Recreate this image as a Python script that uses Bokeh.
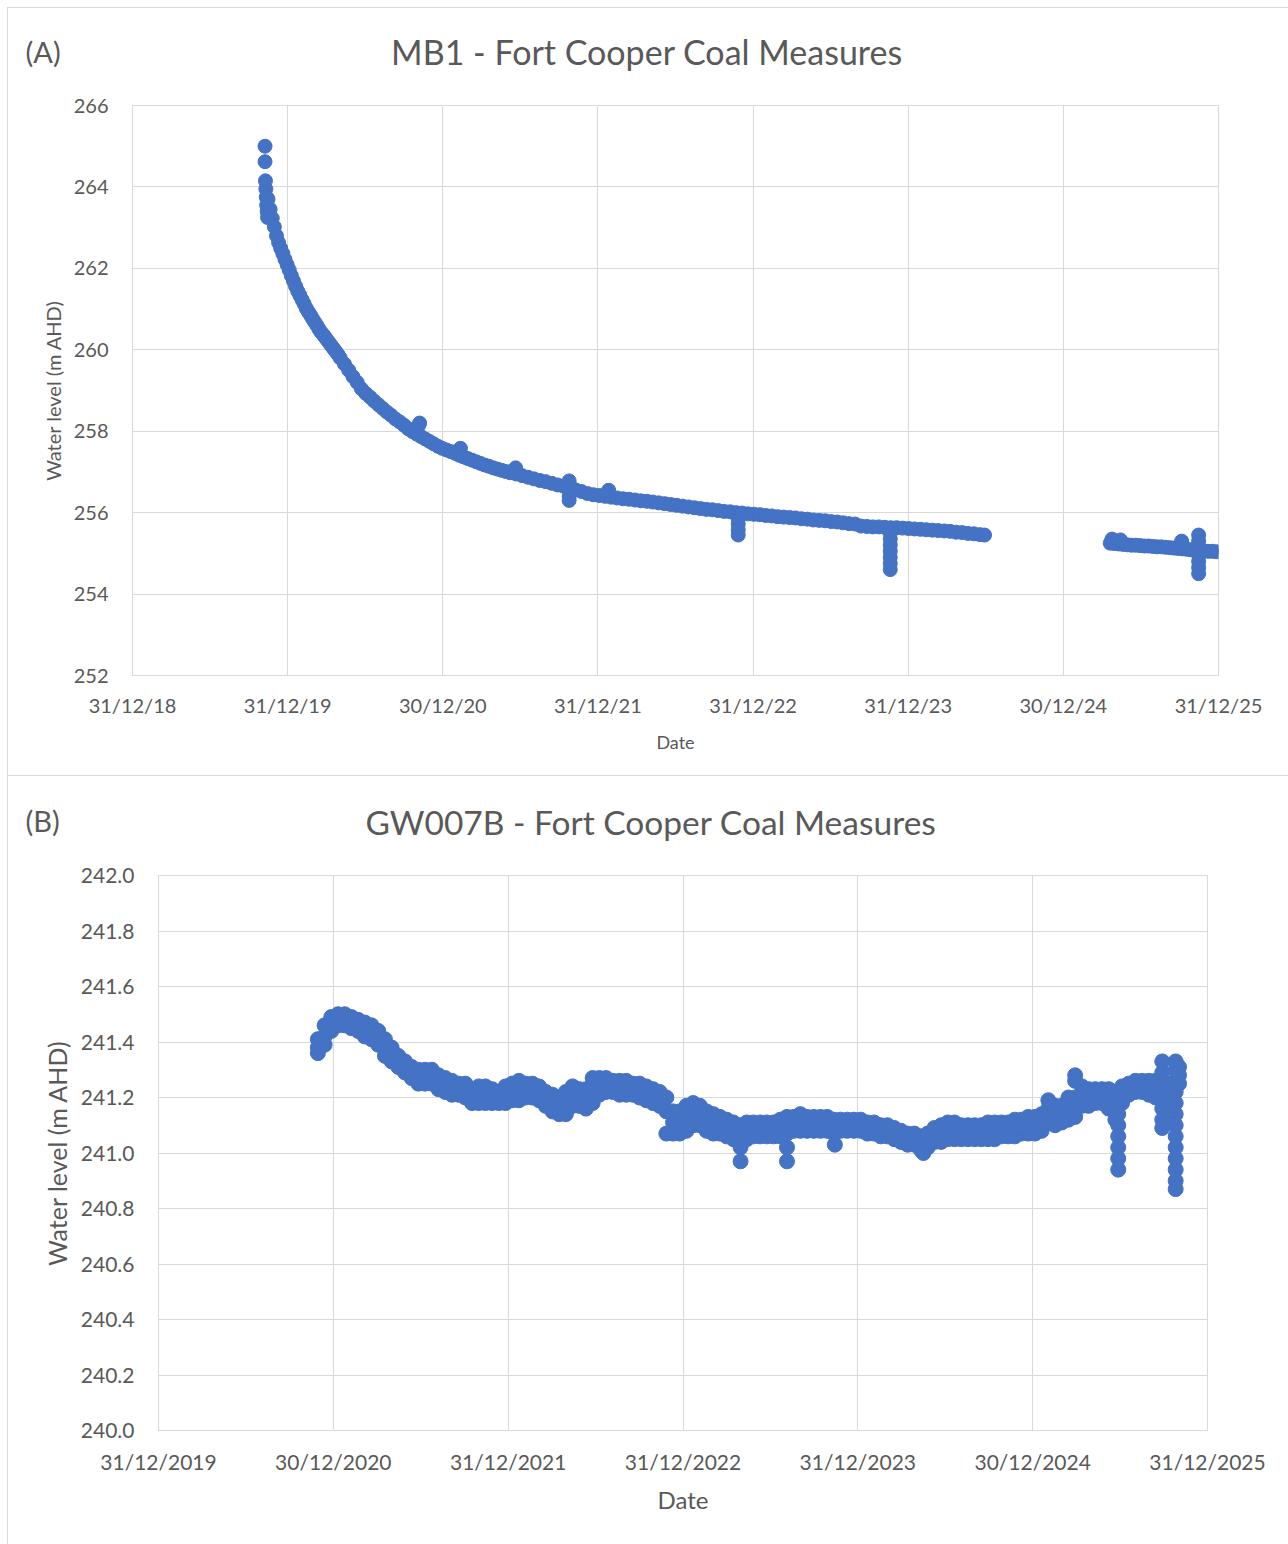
import numpy as np
from bokeh.plotting import figure
from bokeh.models import FixedTicker, Label, Range1d, NumeralTickFormatter
from bokeh.layouts import column
from bokeh.embed import file_html
from bokeh.resources import INLINE

# ---------------- data : (A) MB1 ----------------
mb1_title = "MB1 - Fort Cooper Coal Measures"
mb1_x_labels = ["31/12/18", "31/12/19", "30/12/20", "31/12/21", "31/12/22", "31/12/23", "30/12/24", "31/12/25"]
mb1_y_ticks = [252, 254, 256, 258, 260, 262, 264, 266]

mb1_dates = [
    "2019-11-08", "2019-11-08", "2019-11-09", "2019-11-10", "2019-11-11", "2019-11-12", "2019-11-13", "2019-11-14",
    "2019-11-15", "2019-11-20", "2019-11-25", "2019-11-30", "2019-12-05", "2019-12-10", "2019-12-15", "2019-12-20",
    "2019-12-25", "2019-12-30", "2020-01-04", "2020-01-09", "2020-01-14", "2020-01-19", "2020-01-24", "2020-01-29",
    "2020-02-03", "2020-02-08", "2020-02-13", "2020-02-18", "2020-02-23", "2020-02-28", "2020-03-04", "2020-03-09",
    "2020-03-14", "2020-03-19", "2020-03-24", "2020-03-29", "2020-04-03", "2020-04-08", "2020-04-13", "2020-04-18",
    "2020-04-23", "2020-04-28", "2020-05-03", "2020-05-13", "2020-05-23", "2020-06-02", "2020-06-12", "2020-06-22",
    "2020-07-02", "2020-07-12", "2020-07-22", "2020-08-01", "2020-08-11", "2020-08-21", "2020-08-31", "2020-09-10",
    "2020-09-20", "2020-09-30", "2020-10-10", "2020-10-20", "2020-10-30", "2020-11-09", "2020-11-19", "2020-11-29",
    "2020-12-09", "2020-12-19", "2020-12-29", "2021-01-08", "2021-01-18", "2021-01-28", "2021-02-07", "2021-02-17",
    "2021-02-27", "2021-03-09", "2021-03-19", "2021-03-29", "2021-04-08", "2021-04-18", "2021-04-28", "2021-05-08",
    "2021-05-18", "2021-05-28", "2021-06-07", "2021-06-21", "2021-07-05", "2021-07-19", "2021-08-02", "2021-08-16",
    "2021-08-30", "2021-09-13", "2021-09-27", "2021-10-11", "2021-10-25", "2021-11-08", "2021-11-22", "2021-12-06",
    "2021-12-20", "2022-01-03", "2022-01-17", "2022-01-31", "2022-02-14", "2022-02-28", "2022-03-14", "2022-03-28",
    "2022-04-11", "2022-04-25", "2022-05-09", "2022-05-23", "2022-06-06", "2022-06-20", "2022-07-04", "2022-07-18",
    "2022-08-01", "2022-08-15", "2022-08-29", "2022-09-12", "2022-09-26", "2022-10-10", "2022-10-24", "2022-11-07",
    "2022-11-21", "2022-12-05", "2022-12-19", "2023-01-02", "2023-01-16", "2023-01-30", "2023-02-13", "2023-02-27",
    "2023-03-13", "2023-03-27", "2023-04-10", "2023-04-24", "2023-05-08", "2023-05-22", "2023-06-05", "2023-06-19",
    "2023-07-03", "2023-07-17", "2023-07-31", "2023-08-14", "2023-08-28", "2023-09-11", "2023-09-25", "2023-10-09",
    "2023-10-23", "2023-11-06", "2023-11-20", "2023-12-04", "2023-12-18", "2024-01-01", "2024-01-15", "2024-01-29",
    "2024-02-12", "2024-02-26", "2024-03-11", "2024-03-25", "2024-04-08", "2024-04-22", "2024-05-06", "2024-05-20",
    "2024-06-03", "2024-06-17", "2024-06-28",
    "2025-04-20", "2025-04-30", "2025-05-10", "2025-05-20", "2025-05-30", "2025-06-09", "2025-06-19", "2025-06-29",
    "2025-07-09", "2025-07-19", "2025-07-29", "2025-08-08", "2025-08-18", "2025-08-28", "2025-09-07", "2025-09-17",
    "2025-09-27", "2025-10-07", "2025-10-17", "2025-10-27", "2025-11-06", "2025-11-16", "2025-11-26", "2025-12-06",
    "2025-12-16", "2025-12-26",
]
mb1_level = [
    265.00, 264.62, 264.15, 263.95, 263.75, 263.55, 263.40, 263.25,
    263.70, 263.45, 263.23, 263.02, 262.80, 262.63, 262.49, 262.36,
    262.22, 262.09, 261.96, 261.82, 261.69, 261.56, 261.44, 261.34,
    261.23, 261.13, 261.02, 260.93, 260.85, 260.76, 260.68, 260.60,
    260.51, 260.43, 260.37, 260.30, 260.23, 260.16, 260.09, 260.02,
    259.95, 259.88, 259.80, 259.65, 259.50, 259.34, 259.20, 259.04,
    258.93, 258.84, 258.74, 258.65, 258.56, 258.47, 258.39, 258.30,
    258.23, 258.15, 258.06, 257.99, 257.93, 257.87, 257.81, 257.75,
    257.69, 257.63, 257.58, 257.54, 257.50, 257.46, 257.41, 257.37,
    257.33, 257.29, 257.25, 257.21, 257.17, 257.14, 257.10, 257.07,
    257.04, 257.01, 256.98, 256.95, 256.91, 256.87, 256.83, 256.79,
    256.76, 256.72, 256.68, 256.65, 256.61, 256.56, 256.52, 256.47,
    256.44, 256.42, 256.40, 256.38, 256.36, 256.34, 256.33, 256.31,
    256.29, 256.28, 256.26, 256.24, 256.22, 256.20, 256.18, 256.16,
    256.14, 256.12, 256.10, 256.08, 256.07, 256.05, 256.03, 256.02,
    256.00, 255.99, 255.97, 255.96, 255.95, 255.93, 255.92, 255.90,
    255.89, 255.88, 255.87, 255.85, 255.84, 255.82, 255.81, 255.80,
    255.78, 255.77, 255.75, 255.73, 255.72, 255.67, 255.66, 255.65,
    255.65, 255.64, 255.63, 255.63, 255.62, 255.61, 255.60, 255.59,
    255.58, 255.57, 255.56, 255.55, 255.54, 255.52, 255.51, 255.49,
    255.48, 255.46, 255.45,
    255.25, 255.24, 255.23, 255.22, 255.21, 255.20, 255.20, 255.19,
    255.18, 255.18, 255.17, 255.16, 255.16, 255.15, 255.14, 255.13,
    255.12, 255.11, 255.10, 255.09, 255.08, 255.07, 255.06, 255.05,
    255.05, 255.04,
]
# isolated readings (bumps and short drawdown spikes)
mb1_extra_dates = [
    "2020-11-04", "2020-11-06", "2021-02-10", "2021-06-20", "2021-10-24", "2021-10-24", "2021-10-24", "2022-01-25",
    "2022-11-26", "2022-11-26", "2022-11-26", "2022-11-26",
    "2023-11-19", "2023-11-19", "2023-11-19", "2023-11-19", "2023-11-19", "2023-11-19", "2023-11-19",
    "2025-04-24", "2025-05-14", "2025-10-05",
    "2025-11-14", "2025-11-14", "2025-11-14", "2025-11-14", "2025-11-14", "2025-11-14",
]
mb1_extra_level = [
    258.15, 258.20, 257.58, 257.10, 256.78, 256.40, 256.30, 256.55,
    255.85, 255.72, 255.58, 255.45,
    255.50, 255.35, 255.20, 255.05, 254.90, 254.75, 254.60,
    255.35, 255.33, 255.30,
    255.45, 255.30, 254.95, 254.80, 254.65, 254.50,
]

# ---------------- data : (B) GW007B ----------------
gw_title = "GW007B - Fort Cooper Coal Measures"
gw_x_labels = ["31/12/2019", "30/12/2020", "31/12/2021", "31/12/2022", "31/12/2023", "30/12/2024", "31/12/2025"]
gw_y_ticks = [240.0, 240.2, 240.4, 240.6, 240.8, 241.0, 241.2, 241.4, 241.6, 241.8, 242.0]

gw_dates = [
    "2020-11-28", "2020-12-12", "2020-12-26", "2021-01-09", "2021-01-23", "2021-02-06", "2021-02-20", "2021-03-06",
    "2021-03-20", "2021-04-03", "2021-04-17", "2021-05-01", "2021-05-15", "2021-05-29", "2021-06-12", "2021-06-26",
    "2021-07-10", "2021-07-24", "2021-08-07", "2021-08-21", "2021-09-04", "2021-09-18", "2021-10-02", "2021-10-16",
    "2021-10-30", "2021-11-13", "2021-11-27", "2021-12-11", "2021-12-25",
    "2022-01-08", "2022-01-22", "2022-02-05", "2022-02-19", "2022-03-05", "2022-03-19", "2022-04-02", "2022-04-16",
    "2022-04-30", "2022-05-14", "2022-05-28", "2022-06-11", "2022-06-25", "2022-07-09", "2022-07-23", "2022-08-06",
    "2022-08-20", "2022-09-03", "2022-09-17", "2022-10-01", "2022-10-15", "2022-10-29", "2022-11-12", "2022-11-26",
    "2022-12-10", "2022-12-24",
    "2023-01-07", "2023-01-21", "2023-02-04", "2023-02-18", "2023-03-04", "2023-03-18", "2023-04-01", "2023-04-15",
    "2023-04-29", "2023-05-13", "2023-05-27", "2023-06-10", "2023-06-24", "2023-07-08", "2023-07-22", "2023-08-05",
    "2023-08-19", "2023-09-02", "2023-09-16", "2023-09-30", "2023-10-14", "2023-10-28", "2023-11-11", "2023-11-25",
    "2023-12-09", "2023-12-23",
    "2024-01-06", "2024-01-20", "2024-02-03", "2024-02-17", "2024-03-02", "2024-03-16", "2024-03-30", "2024-04-13",
    "2024-04-27", "2024-05-11", "2024-05-25", "2024-06-08", "2024-06-22", "2024-07-06", "2024-07-20", "2024-08-03",
    "2024-08-17", "2024-08-31", "2024-09-14", "2024-09-28", "2024-10-12", "2024-10-26", "2024-11-09", "2024-11-23",
    "2024-12-07", "2024-12-21",
    "2025-01-04", "2025-01-18", "2025-02-01", "2025-02-15", "2025-03-01", "2025-03-15", "2025-03-29", "2025-04-12",
    "2025-04-26", "2025-05-10", "2025-05-24", "2025-06-07", "2025-06-21", "2025-07-05", "2025-07-19", "2025-08-02",
    "2025-08-16", "2025-08-30", "2025-09-13", "2025-09-27", "2025-10-11", "2025-10-25", "2025-11-01",
]
# lower edge, centre and upper edge of the readings around each date
gw_level_low = [
    241.36, 241.39, 241.44, 241.46, 241.46, 241.45, 241.44, 241.42,
    241.41, 241.39, 241.35, 241.33, 241.31, 241.29, 241.27, 241.25,
    241.25, 241.25, 241.23, 241.22, 241.21, 241.21, 241.20, 241.18,
    241.18, 241.18, 241.18, 241.18, 241.18,
    241.19, 241.19, 241.20, 241.20, 241.19, 241.17, 241.15, 241.14,
    241.14, 241.17, 241.17, 241.16, 241.18, 241.21, 241.22, 241.22,
    241.21, 241.21, 241.21, 241.20, 241.19, 241.18, 241.17, 241.07,
    241.07, 241.07,
    241.08, 241.10, 241.10, 241.08, 241.07, 241.07, 241.06, 241.05,
    241.05, 241.05, 241.06, 241.06, 241.06, 241.06, 241.06, 241.07,
    241.08, 241.08, 241.08, 241.08, 241.08, 241.08, 241.07, 241.08,
    241.08, 241.08,
    241.08, 241.07, 241.07, 241.06, 241.06, 241.05, 241.04, 241.03,
    241.03, 241.01, 241.02, 241.04, 241.04, 241.05, 241.05, 241.05,
    241.05, 241.05, 241.05, 241.05, 241.05, 241.06, 241.06, 241.06,
    241.07, 241.07,
    241.07, 241.08, 241.11, 241.10, 241.11, 241.12, 241.13, 241.17,
    241.17, 241.18, 241.18, 241.16, 241.12, 241.18, 241.21, 241.22,
    241.22, 241.21, 241.20, 241.20, 241.18, 241.22, 241.25,
]
gw_level_mid = [
    241.38, 241.42, 241.47, 241.48, 241.48, 241.47, 241.46, 241.44,
    241.43, 241.41, 241.38, 241.36, 241.33, 241.31, 241.29, 241.27,
    241.27, 241.27, 241.26, 241.25, 241.24, 241.23, 241.22, 241.20,
    241.21, 241.21, 241.20, 241.20, 241.21,
    241.22, 241.22, 241.23, 241.22, 241.22, 241.20, 241.18, 241.17,
    241.18, 241.21, 241.20, 241.20, 241.22, 241.24, 241.25, 241.24,
    241.24, 241.23, 241.23, 241.22, 241.22, 241.21, 241.20, 241.15,
    241.11, 241.10,
    241.13, 241.15, 241.15, 241.12, 241.11, 241.10, 241.09, 241.08,
    241.07, 241.08, 241.09, 241.09, 241.09, 241.09, 241.09, 241.10,
    241.11, 241.11, 241.11, 241.11, 241.11, 241.10, 241.10, 241.10,
    241.10, 241.10,
    241.10, 241.09, 241.09, 241.08, 241.08, 241.07, 241.06, 241.05,
    241.05, 241.03, 241.04, 241.06, 241.07, 241.08, 241.08, 241.08,
    241.07, 241.07, 241.07, 241.08, 241.08, 241.08, 241.08, 241.09,
    241.09, 241.10,
    241.10, 241.11, 241.16, 241.15, 241.15, 241.17, 241.20, 241.21,
    241.21, 241.21, 241.22, 241.21, 241.18, 241.22, 241.24, 241.24,
    241.25, 241.24, 241.23, 241.23, 241.22, 241.26, 241.28,
]
gw_level_high = [
    241.41, 241.46, 241.49, 241.50, 241.50, 241.49, 241.48, 241.47,
    241.46, 241.44, 241.41, 241.38, 241.35, 241.33, 241.31, 241.30,
    241.30, 241.30, 241.28, 241.27, 241.26, 241.25, 241.25, 241.23,
    241.24, 241.24, 241.23, 241.22, 241.24,
    241.25, 241.26, 241.25, 241.25, 241.24, 241.22, 241.21, 241.20,
    241.22, 241.24, 241.23, 241.23, 241.27, 241.27, 241.27, 241.26,
    241.26, 241.26, 241.25, 241.25, 241.24, 241.23, 241.22, 241.20,
    241.15, 241.15,
    241.17, 241.18, 241.17, 241.15, 241.14, 241.13, 241.12, 241.11,
    241.10, 241.11, 241.11, 241.11, 241.11, 241.11, 241.12, 241.13,
    241.13, 241.14, 241.13, 241.13, 241.13, 241.13, 241.12, 241.12,
    241.12, 241.12,
    241.12, 241.11, 241.11, 241.10, 241.10, 241.09, 241.08, 241.07,
    241.07, 241.06, 241.07, 241.09, 241.10, 241.11, 241.11, 241.10,
    241.10, 241.10, 241.10, 241.11, 241.11, 241.11, 241.11, 241.12,
    241.12, 241.13,
    241.13, 241.14, 241.19, 241.17, 241.17, 241.20, 241.26, 241.24,
    241.23, 241.23, 241.23, 241.23, 241.22, 241.24, 241.25, 241.26,
    241.26, 241.26, 241.26, 241.26, 241.25, 241.30, 241.31,
]
# isolated readings (short drawdown spikes)
gw_extra_dates = [
    "2023-04-30", "2023-04-30", "2023-08-05", "2023-08-05", "2023-11-13", "2024-05-16", "2025-03-29",
    "2025-06-27", "2025-06-27", "2025-06-27", "2025-06-27", "2025-06-27", "2025-06-27",
    "2025-09-27", "2025-09-27", "2025-09-27", "2025-09-27", "2025-09-27",
    "2025-10-25", "2025-10-25", "2025-10-25", "2025-10-25", "2025-10-25",
    "2025-10-25", "2025-10-25", "2025-10-25", "2025-10-25", "2025-10-25",
]
gw_extra_level = [
    241.02, 240.97, 241.02, 240.97, 241.03, 241.00, 241.28,
    241.14, 241.10, 241.06, 241.02, 240.98, 240.94,
    241.33, 241.29, 241.16, 241.12, 241.09,
    241.33, 241.18, 241.14, 241.10, 241.06,
    241.02, 240.98, 240.94, 240.90, 240.87,
]

# ---------------- styling ----------------
FONT = "Lato"
TEXT = "#595959"
GRID = "#d9d9d9"
BLUE = "#4472C4"
YEAR_MS = 31557600000  # 365.25 days, Excel major unit


def to_ms(dates):
    return np.array(dates, dtype="datetime64[ms]").astype("int64").astype(float)


def year_ticks(start, n):
    s = int(np.datetime64(start, "ms").astype("int64"))
    return [s + k * YEAR_MS for k in range(n)]


def rule(x, y, w, h):
    return f"linear-gradient({GRID},{GRID}) {x}px {y}px / {w}px {h}px no-repeat"


def canvas_text(p, text, x, y, size, align, side):
    p.add_layout(Label(x=x, y=y, x_units="canvas", y_units="canvas", text=text,
                       text_font=FONT, text_font_size=f"{size}px", text_color=TEXT,
                       text_align=align, text_baseline="middle"), side)


def make_panel(height, fl, fr, ft, fb, xt, xlabels, yticks, ylo, yhi,
               xsize, ysize, xstand, ystand, title, tsize, tx, ty,
               ylab_size, ylab_stand, xlab_size, xlab_stand, tag):
    p = figure(width=1288, height=height, output_backend="svg", toolbar_location=None,
               title=None, x_range=Range1d(xt[0], xt[-1]), y_range=Range1d(ylo, yhi),
               min_border_left=fl, min_border_right=fr, min_border_top=ft, min_border_bottom=fb)
    if "frame_align" in p.properties():
        p.frame_align = False
    p.xaxis.ticker = FixedTicker(ticks=xt)
    p.xaxis.major_label_overrides = {t: lab for t, lab in zip(xt, xlabels)}
    p.yaxis.ticker = FixedTicker(ticks=yticks)
    for ax, size, stand in ((p.xaxis[0], xsize, xstand), (p.yaxis[0], ysize, ystand)):
        ax.axis_line_color = GRID
        ax.major_tick_line_color = None
        ax.minor_tick_line_color = None
        ax.major_tick_out = 0
        ax.major_tick_in = 0
        ax.major_label_text_font = FONT
        ax.major_label_text_font_size = f"{size}px"
        ax.major_label_text_color = TEXT
        ax.major_label_standoff = stand
        ax.axis_label_text_font = FONT
        ax.axis_label_text_color = TEXT
        ax.axis_label_text_font_style = "normal"
    p.yaxis.axis_label = "Water level (m AHD)"
    p.yaxis.axis_label_text_font_size = f"{ylab_size}px"
    p.yaxis.axis_label_standoff = ylab_stand
    p.xaxis.axis_label = "Date"
    p.xaxis.axis_label_text_font_size = f"{xlab_size}px"
    p.xaxis.axis_label_standoff = xlab_stand
    canvas_text(p, title, tx, ty, tsize, "center", "above")
    canvas_text(p, tag[0], 25, tag[1], 29, "left", "left")
    p.xgrid.grid_line_color = GRID
    p.ygrid.grid_line_color = GRID
    p.outline_line_color = GRID
    p.background_fill_color = "white"
    p.border_fill_color = None
    return p


# ---------------- panel A ----------------
HA = 776
ta = year_ticks("2018-12-31", 8)
pA = make_panel(HA, 132, 1288 - 1218, 105, HA - 675, ta, mb1_x_labels, mb1_y_ticks, 252, 266,
                20, 20, 17, 24, mb1_title, 34, 646.5, 51, 20, 6, 18, 11, ("(A)", 51))
pA.scatter(to_ms(mb1_dates), mb1_level, size=14, color=BLUE)
pA.scatter(to_ms(mb1_extra_dates), mb1_extra_level, size=14, color=BLUE)
pA.styles = {"background": ", ".join([rule(7, 7, 1, HA - 7), rule(7, 7, 1288, 1), rule(7, HA - 1, 1288, 1)])
                          + ", white"}

# ---------------- panel B ----------------
HB = 1544 - HA
tb = year_ticks("2019-12-31", 7)
pB = make_panel(HB, 158, 1288 - 1207, 875 - HA, HB - (1430 - HA), tb, gw_x_labels, gw_y_ticks, 240.0, 242.0,
                21, 21, 18, 24, gw_title, 33.5, 650.5, 821 - HA, 25, 6, 24, 8, ("(B)", 820 - HA))
pB.yaxis.formatter = NumeralTickFormatter(format="0.0")
for lev in (gw_level_low, gw_level_mid, gw_level_high):
    pB.scatter(to_ms(gw_dates), lev, size=15, color=BLUE)
pB.scatter(to_ms(gw_extra_dates), gw_extra_level, size=15, color=BLUE)
pB.styles = {"background": rule(7, 0, 1, HB) + ", white"}

layout = column(pA, pB)
open("out.html", "w").write(file_html(layout, INLINE))
